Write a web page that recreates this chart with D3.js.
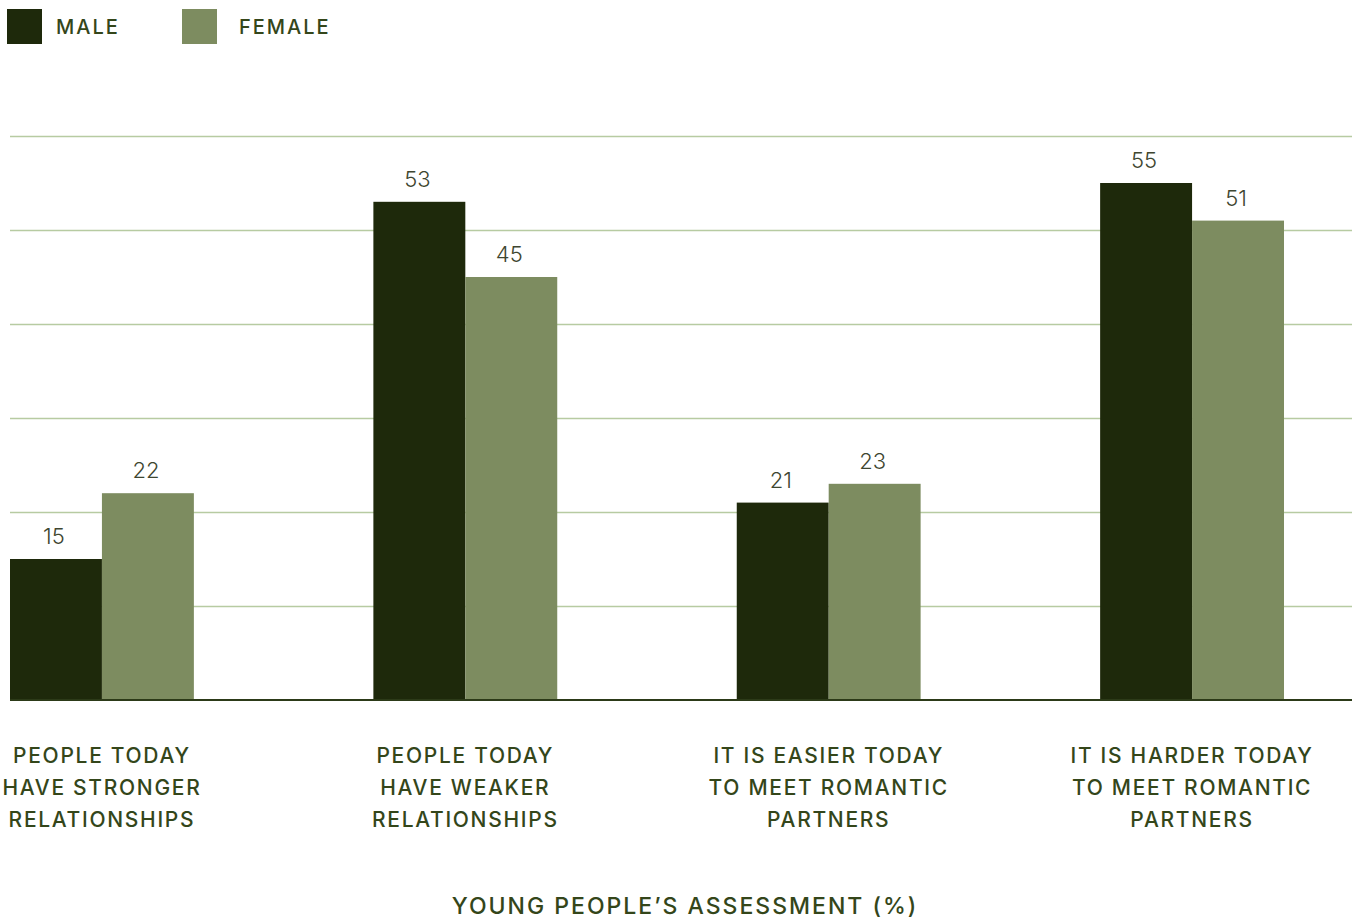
<!DOCTYPE html>
<html lang="en">
<head>
  <meta charset="utf-8">
  <title>Young people's assessment</title>
  <script src="https://cdn.jsdelivr.net/npm/d3@7"></script>
  <style>
    body { margin: 0; background: #fff; }
    text { font-family: Inter, Roboto, sans-serif; }
    .cat { font-size: 21px; font-weight: 500; letter-spacing: 1.7px; fill: #34461a; }
    .ttl { font-size: 23px; font-weight: 500; letter-spacing: 2px; fill: #34461a; }
    .val { font-size: 22px; font-weight: 300; fill: #3e4630; }
    .leg { font-size: 20px; font-weight: 500; letter-spacing: 2px; fill: #34461a; }
  </style>
</head>
<body>
<div id="chart"></div>
<script>
var categories = [
  ["PEOPLE TODAY", "HAVE STRONGER", "RELATIONSHIPS"],
  ["PEOPLE TODAY", "HAVE WEAKER", "RELATIONSHIPS"],
  ["IT IS EASIER TODAY", "TO MEET ROMANTIC", "PARTNERS"],
  ["IT IS HARDER TODAY", "TO MEET ROMANTIC", "PARTNERS"]
];
var series = ["MALE", "FEMALE"];
var male = [15, 53, 21, 55];
var female = [22, 45, 23, 51];
var yTicks = [0, 10, 20, 30, 40, 50, 60];
var axisTitle = "YOUNG PEOPLE\u2019S ASSESSMENT (%)";

var colors = { MALE: "#1e290b", FEMALE: "#7d8c60" };

var width = 1357, height = 921;
var svg = d3.select("#chart").append("svg")
  .attr("width", width).attr("height", height);

var x = d3.scaleBand()
  .domain(d3.range(categories.length))
  .range([10, 1284])
  .paddingInner(0.494)
  .paddingOuter(0);

var xs = d3.scaleBand().domain(series).range([0, x.bandwidth()]);

var y = d3.scaleLinear().domain([0, 60]).range([700, 136]);

// gridlines
svg.append("g")
  .selectAll("line")
  .data(yTicks.slice(1))
  .join("line")
  .attr("x1", 10).attr("x2", 1352)
  .attr("y1", d => y(d) + 0.5).attr("y2", d => y(d) + 0.5)
  .attr("stroke", "#b7cba2").attr("stroke-width", 1.5);

var rows = categories.map((c, i) => ({ i: i, MALE: male[i], FEMALE: female[i] }));

var groups = svg.append("g").selectAll("g")
  .data(rows)
  .join("g")
  .attr("transform", d => "translate(" + x(d.i) + ",0)");

groups.selectAll("rect")
  .data(d => series.map(s => ({ s: s, v: d[s] })))
  .join("rect")
  .attr("x", d => xs(d.s))
  .attr("width", xs.bandwidth())
  .attr("y", d => y(d.v))
  .attr("height", d => y(0) - y(d.v))
  .attr("fill", d => colors[d.s]);

groups.selectAll("text.val")
  .data(d => series.map(s => ({ s: s, v: d[s] })))
  .join("text")
  .attr("class", "val")
  .attr("x", d => xs(d.s) + xs.bandwidth() / 2 - 2)
  .attr("y", d => y(d.v) - 15)
  .attr("text-anchor", "middle")
  .text(d => d.v);

// baseline
svg.append("line")
  .attr("x1", 10).attr("x2", 1352)
  .attr("y1", y(0)).attr("y2", y(0))
  .attr("stroke", "#2c3a18").attr("stroke-width", 2);

// category labels
groups.append("text")
  .attr("class", "cat")
  .attr("text-anchor", "middle")
  .selectAll("tspan")
  .data((d, i) => categories[i])
  .join("tspan")
  .attr("x", x.bandwidth() / 2)
  .attr("y", (d, j) => 763 + j * 32)
  .text(d => d);

// axis title
svg.append("text")
  .attr("class", "ttl")
  .attr("x", 685).attr("y", 914)
  .attr("text-anchor", "middle")
  .text(axisTitle);

// legend
var legX = [7, 182], legTx = [56, 239];
var leg = svg.append("g").selectAll("g")
  .data(series)
  .join("g");
leg.append("rect")
  .attr("x", (d, i) => legX[i]).attr("y", 9)
  .attr("width", 35).attr("height", 35)
  .attr("fill", d => colors[d]);
leg.append("text")
  .attr("class", "leg")
  .attr("x", (d, i) => legTx[i]).attr("y", 34)
  .text(d => d);
</script>
</body>
</html>
